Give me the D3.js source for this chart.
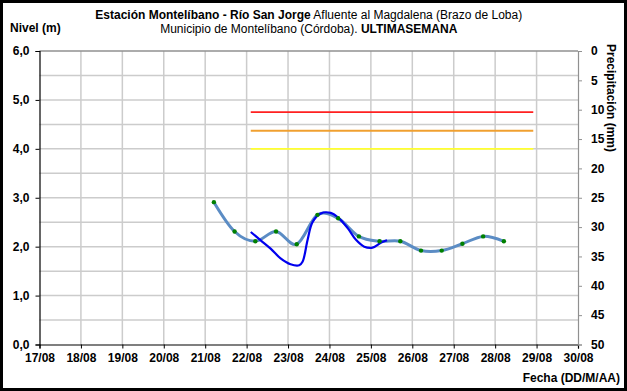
<!DOCTYPE html>
<html><head><meta charset="utf-8">
<script src="https://cdn.jsdelivr.net/npm/d3@7"></script>
<style>body{margin:0;background:#fff}svg text{font-family:"Liberation Sans",Arial,sans-serif}</style>
</head><body><svg id="c" width="627" height="391"></svg>
<script>
// X axis categories (days of August)
const dayLabels = ["17/08","18/08","19/08","20/08","21/08","22/08","23/08","24/08","25/08","26/08","27/08","28/08","29/08","30/08"];
const levelTicks = [0,1,2,3,4,5,6];
const precipTicks = [0,5,10,15,20,25,30,35,40,45,50];
// Series: level readings (day of month as decimal, metres)
const obsDays = [21.21,21.71,22.21,22.71,23.21,23.71,24.21,24.71,25.21,25.71,26.21,26.71,27.21,27.71,28.21];
const obsLevel = [2.91,2.31,2.11,2.31,2.05,2.65,2.58,2.21,2.11,2.11,1.92,1.92,2.06,2.21,2.11];
// Series: automatic sensor (dark blue)
const autoDays = [22.10,22.34,22.58,22.82,23.06,23.27,23.35,23.47,23.59,23.79,24.03,24.23,24.44,24.64,24.84,25.04,25.24,25.39];
const autoLevel = [2.30,2.13,1.96,1.76,1.64,1.62,1.69,2.13,2.50,2.68,2.69,2.58,2.38,2.14,2.00,1.98,2.08,2.13];
// Alert thresholds
const thresholdNames = ["roja","naranja","amarilla"];
const thresholdValues = [4.75,4.37,4.0];
const thresholdColors = ["#ff2020","#f0a030","#ffff30"];
const thresholdSpan = [22.10,28.92];

const svg = d3.select("#c");
const L=39.5, R=578, T=51, B=344.5;
const x = d3.scaleLinear().domain([17,30]).range([L,R]);
const y = d3.scaleLinear().domain([0,6]).range([B,T]);
const yP = d3.scaleLinear().domain([0,50]).range([T,B]);

svg.append("rect").attr("x",1.5).attr("y",1.5).attr("width",624).attr("height",388)
  .attr("fill","#fff").attr("stroke","#000").attr("stroke-width",3);

// gridlines
const g = svg.append("g");
g.selectAll(".vg").data(d3.range(18,30)).join("line")
  .attr("x1",d=>x(d)).attr("x2",d=>x(d)).attr("y1",T).attr("y2",B)
  .attr("stroke","#cccccc").attr("stroke-width",1.5);
g.selectAll(".hg").data(d3.range(0.5,6.01,0.5)).join("line")
  .attr("x1",L).attr("x2",R).attr("y1",d=>y(d)).attr("y2",d=>y(d))
  .attr("stroke",d=>d===6?"#909090":"#cccccc").attr("stroke-width",1.5);

// thresholds
thresholdValues.forEach((v,i)=>{
  svg.append("line").attr("x1",x(thresholdSpan[0])).attr("x2",x(thresholdSpan[1]))
    .attr("y1",y(v)).attr("y2",y(v)).attr("stroke",thresholdColors[i]).attr("stroke-width",1.8);
});

// axes
const font = s=>s.selectAll("text").attr("font-size",12).attr("font-weight","bold").attr("fill","#000");
const ax = svg.append("g").attr("transform",`translate(0,${B})`)
  .call(d3.axisBottom(x).tickValues(d3.range(17,31)).tickFormat((d,i)=>dayLabels[i]).tickSize(4).tickPadding(5));
ax.select(".domain").attr("stroke","#000").attr("stroke-width",1.2);
ax.selectAll("line").attr("stroke","#000");
font(ax);
const ay = svg.append("g").attr("transform",`translate(${L},0)`)
  .call(d3.axisLeft(y).tickValues(levelTicks).tickFormat(d=>d3.format(".1f")(d).replace(".",",")).tickSize(4).tickPadding(6));
ay.select(".domain").attr("stroke","#000").attr("stroke-width",1.2);
ay.selectAll("line").attr("stroke","#000");
font(ay);
const ayr = svg.append("g").attr("transform",`translate(${R},0)`)
  .call(d3.axisRight(yP).tickValues(precipTicks).tickSize(4).tickPadding(9));
ayr.select(".domain").attr("stroke","#909090").attr("stroke-width",1.2);
ayr.selectAll("line").attr("stroke","#909090");
font(ayr);

// series
const lineObs = d3.line().x((d,i)=>x(obsDays[i])).y(d=>y(d)).curve(d3.curveCatmullRom.alpha(0));
svg.append("path").attr("d",lineObs(obsLevel)).attr("fill","none").attr("stroke","#5b8cc4").attr("stroke-width",3);
const lineAuto = d3.line().x((d,i)=>x(autoDays[i])).y(d=>y(d)).curve(d3.curveCatmullRom.alpha(0.5));
svg.append("path").attr("d",lineAuto(autoLevel)).attr("fill","none").attr("stroke","#0000ee").attr("stroke-width",2.2);
svg.selectAll(".pt").data(obsLevel).join("circle")
  .attr("cx",(d,i)=>x(obsDays[i])).attr("cy",d=>y(d)).attr("r",2.2).attr("fill","#008000");

// titles
const cx = (L+R)/2;
const t1 = svg.append("text").attr("x",cx).attr("y",19).attr("font-size",12).attr("text-anchor","middle");
t1.append("tspan").attr("font-weight","bold").text("Estación Montelíbano  - Río San Jorge");
t1.append("tspan").text(" Afluente al Magdalena (Brazo de Loba)");
const t2 = svg.append("text").attr("x",cx).attr("y",33).attr("font-size",12).attr("text-anchor","middle");
t2.append("tspan").text("Municipio de Montelíbano (Córdoba). ");
t2.append("tspan").attr("font-weight","bold").text("ULTIMASEMANA");
svg.append("text").attr("x",10).attr("y",32).attr("font-size",12).attr("font-weight","bold").text("Nivel (m)");
svg.append("text").attr("x",620).attr("y",382).attr("text-anchor","end").attr("font-size",12).attr("font-weight","bold").text("Fecha (DD/M/AA)");
svg.append("text").attr("transform","translate(607,44) rotate(90)").attr("font-size",12).attr("font-weight","bold").text("Precipitación (mm)");
</script></body></html>
